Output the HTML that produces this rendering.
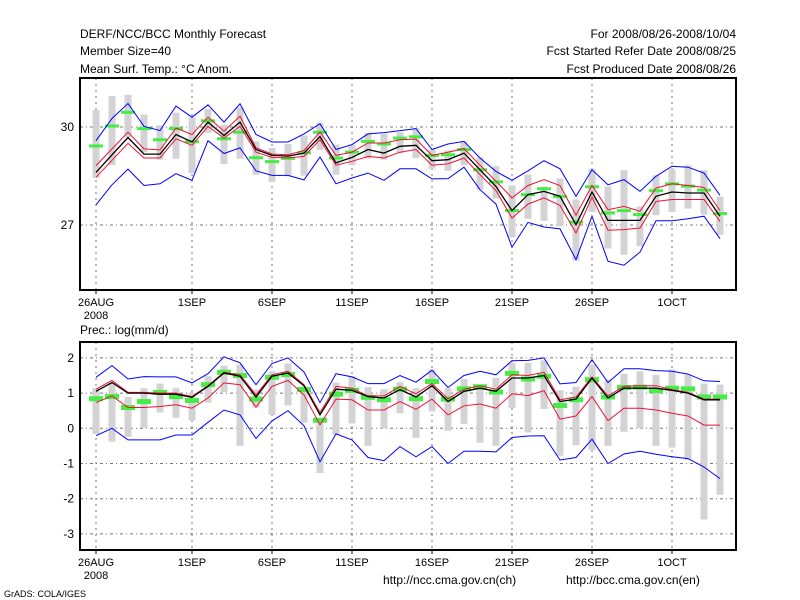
<!DOCTYPE html>
<html><head><meta charset="utf-8"><style>
html,body{margin:0;padding:0;background:#fff}
svg{display:block}
text{font-family:"Liberation Sans",sans-serif;font-size:12px;fill:#000}
</style></head><body>
<svg id="chart" width="800" height="600" viewBox="0 0 800 600">
<rect width="800" height="600" fill="#fff"/>
<g>
<text x="80" y="38">DERF/NCC/BCC Monthly Forecast</text>
<text x="80" y="55">Member Size=40</text>
<text x="80" y="73">Mean Surf. Temp.: °C Anom.</text>
<text x="736" y="38" text-anchor="end">For 2008/08/26-2008/10/04</text>
<text x="736" y="55" text-anchor="end">Fcst Started Refer Date 2008/08/25</text>
<text x="736" y="73" text-anchor="end">Fcst Produced Date 2008/08/26</text>
<text x="80" y="334">Prec.: log(mm/d)</text>
<text x="383" y="584">http://ncc.cma.gov.cn(ch)</text>
<text x="566" y="584">http://bcc.cma.gov.cn(en)</text>
<text x="4" y="597" style="font-size:9px">GrADS: COLA/IGES</text>
</g>
<g id="top"></g>
<g id="bot"></g>
</svg>
<script>
const xLabels = ["26AUG","1SEP","6SEP","11SEP","16SEP","21SEP","26SEP","1OCT"];
const xLabelDays = [0,6,11,16,21,26,31,36];
const tTicks = [30,27];
const pTicks = [2,1,0,-1,-2,-3];

const tMean = [28.61,29.15,29.68,29.17,29.17,29.77,29.54,30.15,29.74,30.15,29.31,29.13,29.11,29.20,29.71,28.90,29.07,29.31,29.20,29.41,29.44,28.97,29.00,29.20,28.69,28.18,27.44,27.93,28.03,27.88,27.01,28.01,27.14,27.14,27.14,27.88,28.01,27.98,27.98,27.27];
const tRedHi = [28.82,29.33,29.84,29.33,29.30,29.97,29.77,30.30,29.87,30.33,29.36,29.17,29.15,29.28,29.85,29.13,29.23,29.51,29.51,29.61,29.63,29.13,29.23,29.34,28.83,28.34,27.83,28.21,28.39,28.21,27.30,28.21,27.47,27.57,27.42,28.13,28.26,28.21,28.15,27.44];
const tRedLo = [28.46,28.98,29.50,29.05,29.05,29.64,29.44,30.02,29.66,30.02,29.23,29.07,29.05,29.10,29.61,28.83,28.95,29.10,29.05,29.23,29.31,28.83,28.87,29.05,28.54,28.05,27.21,27.64,27.83,27.60,26.76,27.85,26.84,26.86,26.91,27.72,27.78,27.78,27.78,27.11];
const tMax = [29.58,30.26,30.72,30.02,29.89,30.64,30.30,30.68,30.15,30.71,29.77,29.54,29.54,29.79,30.10,29.31,29.46,29.79,29.83,29.89,29.95,29.31,29.48,29.56,29.05,28.64,28.37,28.66,28.97,28.72,27.88,28.69,28.23,28.39,28.03,28.49,28.80,28.77,28.59,27.91];
const tMin = [27.62,28.23,28.71,28.21,28.26,28.57,28.37,29.58,29.19,29.36,28.66,28.52,28.52,28.38,29.08,28.26,28.44,28.59,28.37,28.72,28.72,28.41,28.42,28.77,28.08,27.64,26.32,27.08,26.94,26.88,25.94,27.27,25.89,25.77,26.17,27.13,27.13,27.19,27.27,26.58];
const tObs = [29.42,30.03,30.45,29.95,29.61,29.95,29.55,30.19,29.64,29.84,29.06,28.94,29.04,29.21,29.84,29.05,29.23,29.56,29.48,29.66,29.70,29.13,29.15,29.31,28.69,28.32,27.44,27.93,28.11,27.87,27.09,28.17,27.37,27.44,27.32,28.05,28.26,28.19,28.07,27.35];
const tClimHi = [30.52,30.95,30.99,30.38,30.05,30.44,30.30,30.55,30.07,30.60,29.56,29.36,29.48,29.74,30.12,29.46,29.46,29.82,29.79,29.84,29.97,29.31,29.28,29.56,29.07,28.80,28.21,28.54,28.18,28.42,27.78,28.72,28.18,28.68,27.57,28.52,28.72,28.83,28.68,27.87];
const tClimLo = [28.44,28.83,29.69,29.23,29.00,29.03,28.59,29.82,28.87,29.03,28.54,28.32,28.49,28.51,29.30,28.54,28.83,29.03,29.00,29.20,29.05,28.72,28.66,28.83,28.08,27.81,26.62,27.19,27.13,26.96,25.91,27.40,26.28,26.09,26.35,27.30,27.40,27.50,27.32,26.70];

const pMean = [1.05,1.30,1.00,1.00,0.97,0.97,0.88,1.19,1.57,1.48,0.89,1.48,1.57,1.21,0.38,1.11,1.08,0.90,0.86,1.10,0.89,1.21,0.76,1.05,1.14,1.05,1.43,1.43,1.50,0.76,0.83,1.43,0.86,1.14,1.14,1.14,1.08,1.00,0.81,0.81];
const pRedHi = [1.11,1.36,1.02,1.02,1.00,1.00,0.90,1.21,1.59,1.52,0.95,1.52,1.62,1.24,0.45,1.19,1.14,0.92,0.92,1.19,0.98,1.27,0.84,1.11,1.21,1.11,1.52,1.50,1.59,0.81,0.89,1.46,0.92,1.19,1.21,1.21,1.10,1.02,0.83,0.83];
const pRedLo = [0.73,0.92,0.59,0.59,0.62,0.67,0.57,0.86,1.29,1.24,0.60,1.19,1.36,0.95,0.10,0.83,0.81,0.52,0.52,0.76,0.54,0.83,0.38,0.64,0.69,0.57,0.98,0.93,1.07,0.26,0.35,0.90,0.22,0.57,0.57,0.52,0.43,0.35,0.09,0.09];
const pMax = [1.45,1.78,1.40,1.47,1.46,1.46,1.29,1.55,2.03,1.86,1.24,1.84,2.00,1.60,0.73,1.55,1.46,1.27,1.27,1.50,1.31,1.65,1.16,1.50,1.62,1.52,1.92,1.93,2.00,1.26,1.30,1.95,1.30,1.69,1.69,1.64,1.62,1.54,1.35,1.33];
const pMin = [-0.21,0.00,-0.33,-0.33,-0.33,-0.19,-0.19,0.17,0.52,0.38,-0.29,0.21,0.50,0.07,-0.95,-0.16,-0.33,-0.83,-0.92,-0.52,-0.81,-0.52,-1.00,-0.65,-0.65,-0.67,-0.26,-0.22,-0.21,-0.90,-0.83,-0.31,-1.00,-0.73,-0.65,-0.74,-0.81,-0.86,-1.10,-1.43];
const pObs = [0.84,0.90,0.59,0.76,1.02,0.90,0.79,1.24,1.59,1.50,0.83,1.45,1.53,1.10,0.23,0.97,1.08,0.88,0.81,1.11,0.84,1.33,0.83,1.12,1.18,1.03,1.56,1.40,1.48,0.65,0.81,1.38,0.89,1.16,1.17,1.07,1.14,1.12,0.89,0.89];
const pClimHi = [1.14,1.29,0.89,1.14,1.27,1.14,1.00,1.48,1.78,1.81,1.10,1.62,1.84,1.19,0.26,1.30,1.48,1.17,1.11,1.31,1.14,1.67,1.14,1.40,1.22,1.43,1.86,1.86,1.93,1.08,1.18,1.81,1.38,1.55,1.62,1.52,1.67,1.52,1.27,1.24];
const pClimLo = [-0.16,-0.38,-0.24,0.02,0.45,0.30,0.22,0.73,1.03,-0.50,0.59,0.38,0.65,0.16,-1.27,-0.19,0.14,-0.50,0.00,0.43,-0.27,0.48,-0.07,0.12,-0.41,-0.50,0.58,-0.12,0.55,-0.78,-0.48,-0.62,-0.50,-0.10,0.00,-0.50,-0.55,-0.90,-2.59,-1.89];

const NS = "http://www.w3.org/2000/svg";
function mk(parent, tag, attrs) {
  const e = document.createElementNS(NS, tag);
  for (const k in attrs) e.setAttribute(k, attrs[k]);
  parent.appendChild(e);
  return e;
}
const xDay = d => 96 + 16 * d;

function panel(g, top, bot, yFn, yTicks, ser, greenH) {
  // grid
  yTicks.forEach(v => {
    const l = mk(g, "line", {x1: 80, x2: 736, y1: yFn(v), y2: yFn(v), stroke: "#777", "stroke-dasharray": "3,3,1,3", "stroke-width": 1});
    
    
    const t = mk(g, "text", {x: 74, y: yFn(v) + 4, "text-anchor": "end"});
    t.textContent = v;
    
    
  });
  xLabelDays.forEach((d, i) => {
    const l = mk(g, "line", {x1: xDay(d), x2: xDay(d), y1: top, y2: bot, stroke: "#777", "stroke-dasharray": "2,4", "stroke-width": 1});
    
    
    const tk = mk(g, "line", {x1: xDay(d), x2: xDay(d), y1: bot, y2: bot + 4, stroke: "#000"});
    
    
    const t = mk(g, "text", {x: xDay(d), y: bot + 16, "text-anchor": "middle", style: "font-size:11px"});
    t.textContent = xLabels[i];
    
    
  });
  const yr = mk(g, "text", {x: xDay(0), y: bot + 29, "text-anchor": "middle", style: "font-size:11px"});
  yr.textContent = "2008";
  
  
  // gray bars
  ser.climHi.forEach((v, i) => {
    const y1 = yFn(v), y2 = yFn(ser.climLo[i]);
    const r = mk(g, "rect", {x: xDay(i) - 3.5, y: y1, width: 7, height: y2 - y1, fill: "#d3d3d6"});
    
    
  });
  ser.obs.forEach((v, i) => {
    const r = mk(g, "rect", {x: xDay(i) - 7, y: yFn(v) - greenH / 2, width: 14, height: greenH, fill: "#44ee44"});
    
    
  });
  const line = (arr, col, w, name) => {
    const p = mk(g, "polyline", {points: arr.map((v, i) => xDay(i) + "," + yFn(v).toFixed(1)).join(" "), fill: "none", stroke: col, "stroke-width": w});
    
    
  };
  line(ser.max, "#0000ff", 1, "ensemble-max-line");
  line(ser.min, "#0000ff", 1, "ensemble-min-line");
  line(ser.hi, "#ee1133", 1, "upper-spread-line");
  line(ser.lo, "#ee1133", 1, "lower-spread-line");
  line(ser.mean, "#000", 1.3, "ensemble-mean-line");
  const f = mk(g, "rect", {x: 80, y: top, width: 656, height: bot - top, fill: "none", stroke: "#000", "stroke-width": 2});
  
  
}

const yT = v => 127 + (30 - v) * 32.67;
const yP = v => 428.3 - v * 35.2;
panel(document.getElementById("top"), 78, 290, yT, tTicks,
  {mean: tMean, hi: tRedHi, lo: tRedLo, max: tMax, min: tMin, obs: tObs, climHi: tClimHi, climLo: tClimLo}, 3);
panel(document.getElementById("bot"), 342, 550, yP, pTicks,
  {mean: pMean, hi: pRedHi, lo: pRedLo, max: pMax, min: pMin, obs: pObs, climHi: pClimHi, climLo: pClimLo}, 5);
</script>
</body></html>
